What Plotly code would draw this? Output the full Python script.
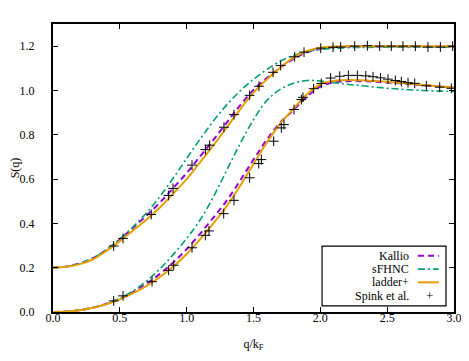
import plotly.graph_objects as go

# ---------------- data ----------------
q_grid = [0.0, 0.1, 0.2, 0.3, 0.4, 0.5, 0.6, 0.7, 0.8, 0.9, 1.0,
          1.1, 1.2, 1.3, 1.4, 1.5, 1.6, 1.7, 1.8, 1.9, 2.0,
          2.1, 2.2, 2.3, 2.4, 2.5, 2.6, 2.7, 2.8, 2.9, 3.0]

# upper family (S(0)=0.2)
kallio_up = [0.200, 0.205, 0.219, 0.243, 0.280, 0.327, 0.380, 0.436, 0.494, 0.560, 0.627,
             0.702, 0.777, 0.855, 0.933, 1.002, 1.056, 1.103, 1.143, 1.172, 1.188,
             1.195, 1.198, 1.199, 1.199, 1.199, 1.199, 1.199, 1.199, 1.199, 1.199]
sfhnc_up = [0.200, 0.205, 0.219, 0.244, 0.282, 0.330, 0.385, 0.448, 0.522, 0.605, 0.693,
            0.780, 0.862, 0.935, 0.998, 1.050, 1.095, 1.132, 1.158, 1.175, 1.185,
            1.190, 1.193, 1.194, 1.195, 1.195, 1.195, 1.195, 1.195, 1.195, 1.195]
ladder_up = [0.200, 0.204, 0.216, 0.238, 0.276, 0.320, 0.368, 0.418, 0.472, 0.535, 0.600,
             0.675, 0.752, 0.833, 0.915, 0.990, 1.050, 1.103, 1.148, 1.178, 1.193,
             1.198, 1.200, 1.200, 1.200, 1.200, 1.200, 1.200, 1.200, 1.200, 1.200]

# lower family (S(0)=0)
kallio_lo = [0.000, 0.002, 0.008, 0.020, 0.037, 0.060, 0.091, 0.128, 0.172, 0.224, 0.284,
             0.353, 0.426, 0.503, 0.593, 0.688, 0.778, 0.855, 0.913, 0.972, 1.018,
             1.036, 1.042, 1.042, 1.040, 1.036, 1.032, 1.027, 1.022, 1.017, 1.013]
sfhnc_lo = [0.000, 0.002, 0.008, 0.020, 0.037, 0.062, 0.095, 0.140, 0.195, 0.260, 0.332,
            0.415, 0.520, 0.640, 0.760, 0.868, 0.955, 1.005, 1.033, 1.045, 1.043,
            1.035, 1.028, 1.022, 1.016, 1.010, 1.006, 1.002, 0.999, 0.997, 0.996]
ladder_lo = [0.000, 0.002, 0.008, 0.019, 0.035, 0.057, 0.085, 0.118, 0.158, 0.205, 0.262,
             0.328, 0.400, 0.478, 0.570, 0.668, 0.765, 0.850, 0.918, 0.983, 1.028,
             1.043, 1.047, 1.046, 1.043, 1.039, 1.034, 1.029, 1.023, 1.018, 1.013]

# Spink et al. data points
spink_up_q = [0.454, 0.524, 0.735, 0.865, 0.898, 1.040, 1.140, 1.172, 1.279, 1.354,
              1.471, 1.541, 1.646, 1.703, 1.808, 1.878, 2.003, 2.095, 2.152, 2.257,
              2.352, 2.444, 2.531, 2.618, 2.711, 2.805, 2.898, 2.990]
spink_up_s = [0.298, 0.332, 0.440, 0.526, 0.558, 0.663, 0.733, 0.753, 0.834, 0.891,
              0.978, 1.019, 1.082, 1.113, 1.152, 1.173, 1.191, 1.195, 1.196, 1.200,
              1.202, 1.200, 1.200, 1.200, 1.200, 1.196, 1.196, 1.200]
spink_lo_q = [0.454, 0.524, 0.741, 0.865, 0.903, 1.040, 1.140, 1.167, 1.277, 1.354,
              1.471, 1.539, 1.559, 1.651, 1.708, 1.728, 1.803, 1.858, 1.870, 1.950,
              2.007, 2.077, 2.145, 2.210, 2.277, 2.340, 2.394, 2.450, 2.506, 2.561,
              2.606, 2.656, 2.706, 2.793, 2.893, 2.980]
spink_lo_s = [0.050, 0.073, 0.137, 0.188, 0.211, 0.290, 0.346, 0.366, 0.444, 0.504,
              0.606, 0.670, 0.688, 0.771, 0.831, 0.846, 0.914, 0.959, 0.969, 1.008,
              1.032, 1.056, 1.064, 1.068, 1.068, 1.066, 1.062, 1.057, 1.051, 1.045,
              1.040, 1.035, 1.032, 1.021, 1.015, 1.010]

x_ticks = [0.0, 0.5, 1.0, 1.5, 2.0, 2.5, 3.0]
y_ticks = [0.0, 0.2, 0.4, 0.6, 0.8, 1.0, 1.2]

legend_names = ["Kallio", "sFHNC", "ladder+", "Spink et al."]

# ---------------- styles ----------------
C_KALLIO = "#9400D3"
C_SFHNC = "#009E73"
C_LADDER = "#E69F00"
FONT = "Liberation Serif"

fig = go.Figure()

for ys in (kallio_up, kallio_lo):
    fig.add_trace(go.Scatter(x=q_grid, y=ys, mode="lines", line_shape="spline",
                             line=dict(color=C_KALLIO, width=2, dash="6px,4px"),
                             showlegend=False, hoverinfo="skip"))
for ys in (sfhnc_up, sfhnc_lo):
    fig.add_trace(go.Scatter(x=q_grid, y=ys, mode="lines", line_shape="spline",
                             line=dict(color=C_SFHNC, width=1.6, dash="7px,3px,2px,3px"),
                             showlegend=False, hoverinfo="skip"))
for ys in (ladder_up, ladder_lo):
    fig.add_trace(go.Scatter(x=q_grid, y=ys, mode="lines", line_shape="spline",
                             line=dict(color=C_LADDER, width=2),
                             showlegend=False, hoverinfo="skip"))
for xs, ys in ((spink_up_q, spink_up_s), (spink_lo_q, spink_lo_s)):
    fig.add_trace(go.Scatter(x=xs, y=ys, mode="markers",
                             marker=dict(symbol="cross-thin-open", size=7, color="black",
                                         line=dict(color="black", width=1)),
                             showlegend=False))

# ---------------- custom gnuplot-style legend ----------------
fig.add_shape(type="rect", xref="paper", yref="paper",
              x0=0.671, x1=0.980, y0=0.021, y1=0.229,
              line=dict(color="black", width=1.2), fillcolor="white", layer="above")
row_y = [0.1955, 0.149, 0.103, 0.057]
styles = [dict(color=C_KALLIO, width=2, dash="6px,4px"),
          dict(color=C_SFHNC, width=1.6, dash="7px,3px,2px,3px"),
          dict(color=C_LADDER, width=2)]
for i, name in enumerate(legend_names):
    fig.add_annotation(xref="paper", yref="paper", x=0.892, y=row_y[i],
                       text=name, showarrow=False, xanchor="right", yanchor="middle",
                       font=dict(family=FONT, size=12, color="black"))
    if i < 3:
        fig.add_shape(type="line", xref="paper", yref="paper",
                      x0=0.910, x1=0.962, y0=row_y[i], y1=row_y[i],
                      line=styles[i], layer="above")
    else:
        fig.add_annotation(xref="paper", yref="paper", x=0.938, y=row_y[i],
                           text="+", showarrow=False, xanchor="center", yanchor="middle",
                           font=dict(family=FONT, size=13, color="black"))

axis_common = dict(showline=True, linecolor="black", linewidth=2, mirror="ticks",
                   ticks="inside", ticklen=5, tickwidth=1, tickcolor="black",
                   showgrid=False, zeroline=False,
                   tickfont=dict(family=FONT, size=12, color="black"))

fig.update_xaxes(range=[0, 3], tickvals=x_ticks, tickformat=".1f",
                 ticklabelstandoff=-6,
                 title=dict(text="q/k<sub>F</sub>", font=dict(family=FONT, size=12, color="black"),
                            standoff=15),
                 **axis_common)
fig.update_yaxes(range=[0, 1.3], tickvals=y_ticks, tickformat=".1f",
                 ticklabelstandoff=14,
                 title=dict(text="S(q)", font=dict(family=FONT, size=12, color="black"),
                            standoff=10),
                 **axis_common)

fig.update_layout(width=469, height=361,
                  margin=dict(l=45, r=23, t=16, b=57, autoexpand=False),
                  paper_bgcolor="white", plot_bgcolor="white",
                  font=dict(family=FONT, size=12, color="black"),
                  showlegend=False)

fig.write_html("out.html")
